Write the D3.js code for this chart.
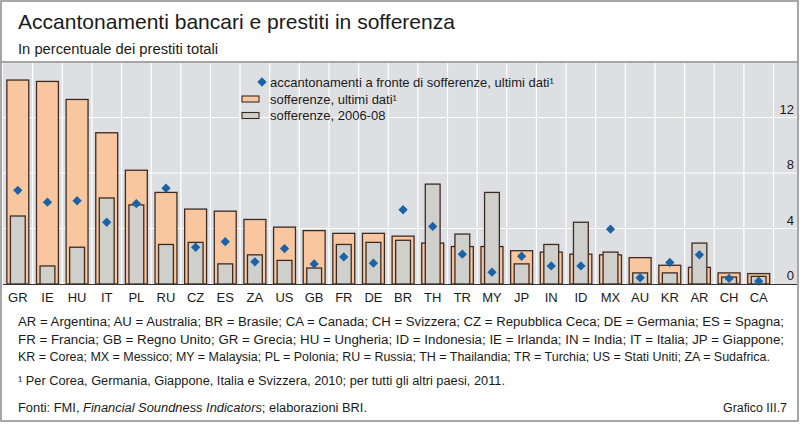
<!DOCTYPE html>
<html><head><meta charset="utf-8">
<script src="https://cdn.jsdelivr.net/npm/d3@7"></script>
<style>html,body{margin:0;padding:0;background:#fff}svg{display:block}</style>
</head><body>
<script>
const categories = ['GR','IE','HU','IT','PL','RU','CZ','ES','ZA','US','GB','FR','DE','BR','TH','TR','MY','JP','IN','ID','MX','AU','KR','AR','CH','CA'];
const latestNPL = [14.7,14.6,13.3,10.9,8.2,6.6,5.4,5.25,4.65,4.1,3.85,3.65,3.65,3.45,2.95,2.7,2.7,2.4,2.3,2.15,2.1,1.9,1.35,1.2,0.8,0.75];
const npl0608 = [4.9,1.3,2.65,6.2,5.7,2.85,3.0,1.45,2.1,1.7,1.15,2.85,3.0,3.15,7.2,3.6,6.6,1.45,2.85,4.45,2.3,0.8,0.8,2.95,0.5,0.55];
const provisions = [6.75,5.9,6.0,4.45,5.8,6.9,2.65,3.05,1.6,2.55,1.45,1.95,1.5,5.35,4.15,2.15,0.85,2.0,1.3,1.3,3.95,0.45,1.55,2.1,0.4,0.2];
const yTicks = [0,4,8,12];
const legendLabels = ['accantonamenti a fronte di sofferenze, ultimi dati¹','sofferenze, ultimi dati¹','sofferenze, 2006-08'];
const titleText = 'Accantonamenti bancari e prestiti in sofferenza';
const subtitleText = 'In percentuale dei prestiti totali';
const noteLines = [
 'AR = Argentina;  AU = Australia;  BR = Brasile;  CA = Canada;  CH = Svizzera;  CZ = Repubblica  Ceca;  DE = Germania;  ES = Spagna;',
 'FR = Francia;  GB = Regno  Unito;  GR = Grecia;  HU = Ungheria;  ID = Indonesia;  IE = Irlanda;  IN = India;  IT = Italia;  JP = Giappone;',
 'KR = Corea; MX = Messico; MY = Malaysia; PL = Polonia; RU = Russia; TH = Thailandia; TR = Turchia; US = Stati Uniti; ZA = Sudafrica.'
];
const footnote = '¹ Per Corea, Germania, Giappone, Italia e Svizzera, 2010; per tutti gli altri paesi, 2011.';
const sourceParts = ['Fonti: FMI, ','Financial Soundness Indicators','; elaborazioni BRI.'];
const chartId = 'Grafico III.7';

const W = 800, H = 424;
const FONT = "'Liberation Sans', Arial, sans-serif";
const svg = d3.select('body').append('svg').attr('width', W).attr('height', H)
  .style('font-family', FONT);

const C = {orange:'#f8c7a0', gray:'#cfd0cc', stroke:'#3d2b22', diamond:'#1c62a6', bg:'#dedfe2', text:'#1a1a1a', frame:'#8a8a8a'};

svg.append('rect').attr('width', W).attr('height', H).attr('fill', '#fff');

// plot background
const plotTop = 63, plotBottom = 284, plotLeft = 3, plotRight = 773.5, bgRight = 797;
svg.append('rect').attr('x', plotLeft).attr('y', plotTop).attr('width', bgRight - plotLeft).attr('height', plotBottom - plotTop).attr('fill', C.bg);

const x = d3.scaleBand().domain(categories).range([plotLeft, plotRight]).paddingInner(0).paddingOuter(0);
const y = d3.scaleLinear().domain([0, 16]).range([plotBottom, plotBottom - 16 * 13.875]);

// vertical grid
const g = svg.append('g');
g.selectAll('line.v').data(categories).join('line')
  .attr('x1', d => x(d) + x.step())
  .attr('x2', d => x(d) + x.step())
  .attr('y1', plotTop).attr('y2', plotBottom)
  .attr('stroke', '#fff').attr('stroke-width', 1.2);
// horizontal grid
g.selectAll('line.h').data(yTicks.filter(t => t > 0)).join('line')
  .attr('x1', plotLeft).attr('x2', bgRight)
  .attr('y1', d => y(d)).attr('y2', d => y(d))
  .attr('stroke', '#fff').attr('stroke-width', 1.2);

// y tick labels (right)
svg.append('g').selectAll('text').data(yTicks).join('text')
  .attr('x', 794).attr('y', d => y(d) - 4)
  .attr('text-anchor', 'end').attr('font-size', 13).attr('fill', C.text)
  .text(d => d);

const step = x.step();
const wO = step * 0.74, wG = step * 0.5;
// orange bars
svg.append('g').selectAll('rect').data(categories).join('rect')
  .attr('x', d => x(d) + (step - wO) / 2)
  .attr('y', (d, i) => y(latestNPL[i]))
  .attr('width', wO)
  .attr('height', (d, i) => y(0) - y(latestNPL[i]))
  .attr('fill', C.orange).attr('stroke', C.stroke).attr('stroke-width', 1.3);
// gray bars
svg.append('g').selectAll('rect').data(categories).join('rect')
  .attr('x', d => x(d) + (step - wG) / 2)
  .attr('y', (d, i) => y(npl0608[i]))
  .attr('width', wG)
  .attr('height', (d, i) => y(0) - y(npl0608[i]))
  .attr('fill', C.gray).attr('stroke', C.stroke).attr('stroke-width', 1.3);
// diamonds
const diamond = d3.symbol().type(d3.symbolDiamond2).size(55);
svg.append('g').selectAll('path').data(categories).join('path')
  .attr('d', diamond)
  .attr('transform', (d, i) => `translate(${x(d) + step / 2},${y(provisions[i])})`)
  .attr('fill', C.diamond);

// x axis line
svg.append('line').attr('x1', plotLeft).attr('x2', bgRight).attr('y1', plotBottom + 0.5).attr('y2', plotBottom + 0.5)
  .attr('stroke', '#333').attr('stroke-width', 1.2);

// x labels
svg.append('g').selectAll('text').data(categories).join('text')
  .attr('x', d => x(d) + step / 2).attr('y', 302)
  .attr('text-anchor', 'middle').attr('font-size', 13).attr('fill', C.text)
  .text(d => d);

// legend
const lg = svg.append('g');
const rows = [82, 99, 115.5];
lg.append('path').attr('d', diamond).attr('transform', `translate(262,${rows[0]})`).attr('fill', C.diamond);
lg.append('rect').attr('x', 242).attr('y', rows[1] - 3).attr('width', 17).attr('height', 6)
  .attr('fill', C.orange).attr('stroke', C.stroke).attr('stroke-width', 1.1);
lg.append('rect').attr('x', 242).attr('y', rows[2] - 3).attr('width', 17).attr('height', 6)
  .attr('fill', C.gray).attr('stroke', C.stroke).attr('stroke-width', 1.1);
lg.selectAll('text').data(legendLabels).join('text')
  .attr('x', 270).attr('y', (d, i) => rows[i] + 4.5)
  .attr('font-size', 13).attr('fill', C.text).text(d => d);

// header
svg.append('text').attr('x', 18).attr('y', 29).attr('font-size', 21).attr('fill', C.text)
  .attr('textLength', 437).attr('lengthAdjust', 'spacingAndGlyphs').text(titleText);
svg.append('text').attr('x', 18).attr('y', 54).attr('font-size', 14).attr('fill', C.text)
  .attr('textLength', 200).attr('lengthAdjust', 'spacingAndGlyphs').text(subtitleText);
svg.append('line').attr('x1', 1).attr('x2', 798).attr('y1', 62).attr('y2', 62).attr('stroke', C.frame).attr('stroke-width', 1.5);

// notes
const noteW = [766, 766, 752];
svg.append('g').selectAll('text').data(noteLines).join('text')
  .attr('x', 18).attr('y', (d, i) => 326 + i * 17.5)
  .attr('font-size', 12.5).attr('fill', C.text)
  .attr('textLength', (d, i) => noteW[i]).attr('lengthAdjust', 'spacingAndGlyphs')
  .text(d => d);
svg.append('text').attr('x', 18).attr('y', 385).attr('font-size', 12.5).attr('fill', C.text)
  .attr('textLength', 487).attr('lengthAdjust', 'spacingAndGlyphs').text(footnote);
const src = svg.append('text').attr('x', 18).attr('y', 412).attr('font-size', 12.5).attr('fill', C.text)
  .attr('textLength', 349).attr('lengthAdjust', 'spacingAndGlyphs');
src.append('tspan').text(sourceParts[0]);
src.append('tspan').attr('font-style', 'italic').text(sourceParts[1]);
src.append('tspan').text(sourceParts[2]);
svg.append('text').attr('x', 787).attr('y', 412).attr('text-anchor', 'end').attr('font-size', 12.5).attr('fill', C.text)
  .attr('textLength', 64).attr('lengthAdjust', 'spacingAndGlyphs').text(chartId);

// frame
svg.append('rect').attr('x', 1).attr('y', 1).attr('width', 797).attr('height', 420)
  .attr('fill', 'none').attr('stroke', C.frame).attr('stroke-width', 1.5);
</script>
</body></html>
